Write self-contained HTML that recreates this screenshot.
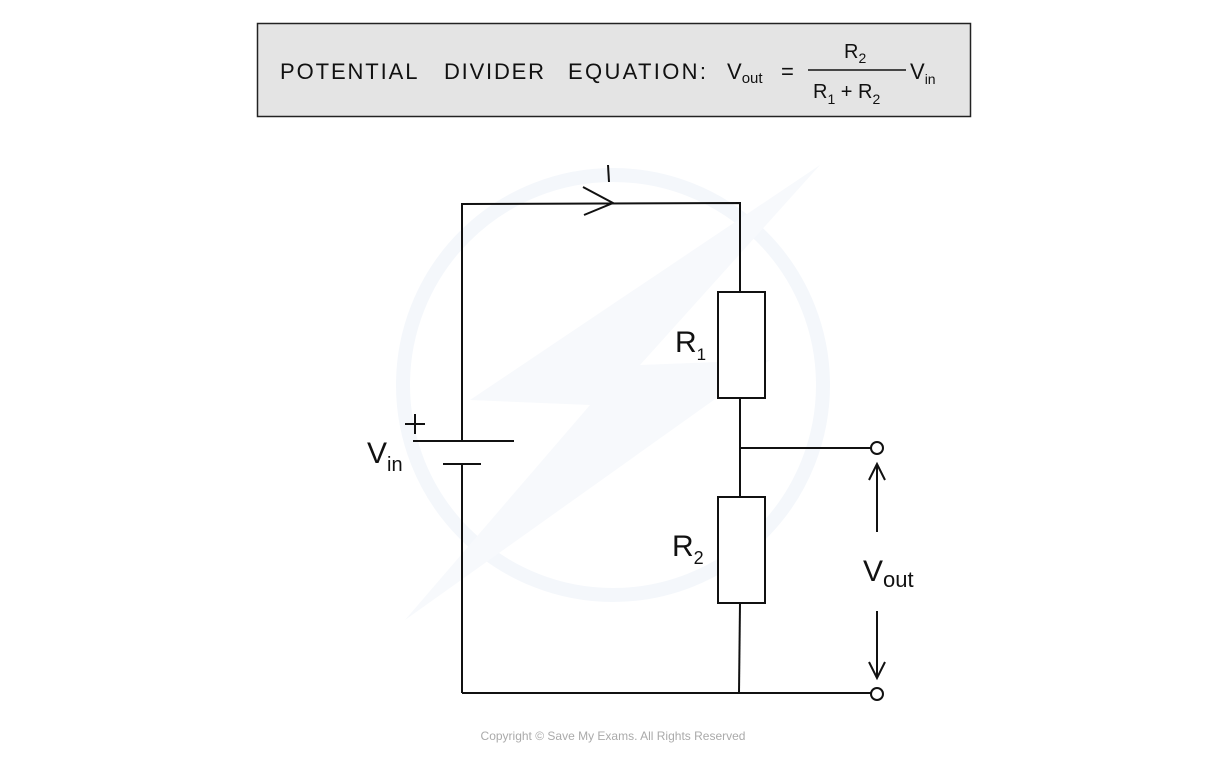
<!DOCTYPE html>
<html><head><meta charset="utf-8"><style>
body{margin:0;background:#fff;width:1226px;height:757px;overflow:hidden;font-family:"Liberation Sans",sans-serif}
</style></head><body>
<svg width="1226" height="757" viewBox="0 0 1226 757" xmlns="http://www.w3.org/2000/svg">
<circle cx="613" cy="385" r="210" fill="none" stroke="#f4f7fb" stroke-width="14"/>
<polygon points="820,165 470,400 590,405 405,620 770,360 640,365" fill="#f7f9fc"/>
<rect x="257.5" y="23.5" width="713" height="93" fill="#e4e4e4" stroke="#222" stroke-width="1.5"/>
<g font-family="Liberation Sans, sans-serif" fill="#111">
<text x="280" y="79" font-size="22" letter-spacing="0.5" textLength="138">POTENTIAL</text>
<text x="444" y="79" font-size="22" textLength="100">DIVIDER</text>
<text x="568" y="79" font-size="22" textLength="138">EQUATION:</text>
<text x="727" y="79" font-size="22">V<tspan font-size="15" dy="4">out</tspan></text>
<text x="781" y="79" font-size="22">=</text>
<text x="844" y="58" font-size="20">R<tspan font-size="14" dy="5">2</tspan></text>
<line x1="808" y1="70" x2="906" y2="70" stroke="#111" stroke-width="1.5"/>
<text x="813" y="98" font-size="20">R<tspan font-size="14" dy="6">1</tspan><tspan dy="-6"> + R</tspan><tspan font-size="14" dy="6">2</tspan></text>
<text x="910" y="79" font-size="22">V<tspan font-size="14" dy="5">in</tspan></text>
</g>
<g stroke="#111" stroke-width="2" fill="none">
<polyline points="462,441 462,204 740,203 740,292"/>
<polyline points="583,187 613,203 584,215"/>
<line x1="608" y1="165" x2="609" y2="182"/>
<rect x="718" y="292" width="47" height="106" fill="#fff"/>
<line x1="740" y1="398" x2="740" y2="497"/>
<line x1="740" y1="448" x2="871" y2="448"/>
<rect x="718" y="497" width="47" height="106" fill="#fff"/>
<line x1="740" y1="603" x2="739" y2="693"/>
<line x1="413" y1="441" x2="514" y2="441"/>
<line x1="443" y1="464" x2="481" y2="464"/>
<line x1="462" y1="464" x2="462" y2="693"/>
<line x1="462" y1="693" x2="871" y2="693"/>
<circle cx="877" cy="448" r="6"/>
<circle cx="877" cy="694" r="6"/>
<line x1="877" y1="464" x2="877" y2="532"/>
<polyline points="869,480 877,464 885,480"/>
<line x1="877" y1="611" x2="877" y2="678"/>
<polyline points="869,662 877,678 885,662"/>
<line x1="405" y1="424" x2="425" y2="424"/>
<line x1="415" y1="414" x2="415" y2="434"/>
</g>
<g font-family="Liberation Sans, sans-serif" fill="#111">
<text x="367" y="463" font-size="30">V<tspan font-size="20" dy="8">in</tspan></text>
<text x="675" y="352" font-size="30">R<tspan font-size="17" dy="8">1</tspan></text>
<text x="672" y="556" font-size="30">R<tspan font-size="18" dy="8">2</tspan></text>
<text x="863" y="581" font-size="30">V<tspan font-size="22" dy="6">out</tspan></text>
</g>
<text x="613" y="740" font-size="12" fill="#aaa" text-anchor="middle" font-family="Liberation Sans, sans-serif">Copyright © Save My Exams. All Rights Reserved</text>
</svg>
</body></html>
